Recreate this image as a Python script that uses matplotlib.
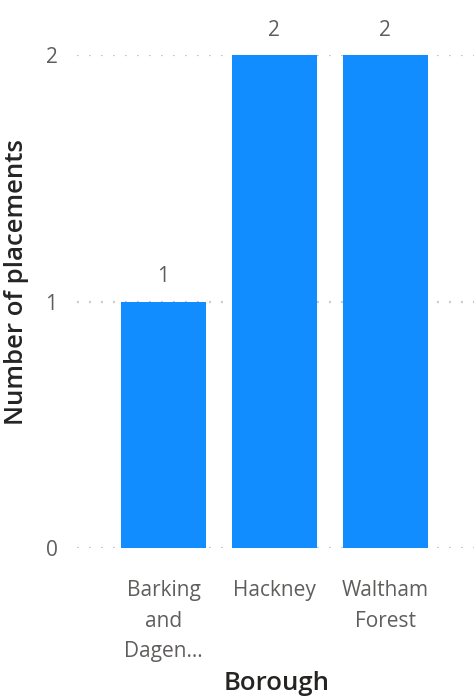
import matplotlib.pyplot as plt

boroughs = ["Barking\nand\nDagen...", "Hackney", "Waltham\nForest"]
placements = [1, 2, 2]
yticks = [0, 1, 2]

W, H = 474, 696
fig = plt.figure(figsize=(W / 100, H / 100), dpi=100)
plt.rcParams['font.family'] = ['Open Sans', 'DejaVu Sans']

# axes in pixel coordinates: left 77, right 474, y=0 at 548, y=2 at 55
ax = fig.add_axes([77 / W, (H - 548) / H, (W - 77) / W, (548 - 55) / H])
x = list(range(len(boroughs)))
ax.bar(x, placements, width=0.77, color="#118DFF", zorder=3)
ax.set_xlim(-0.78, 2.80)
ax.set_ylim(0, 2)

for v in yticks:
    ax.axhline(v, color="#C8C6C4", linestyle=(0, (0.8, 4.6)), linewidth=1.6, zorder=1)

for xi, v in zip(x, placements):
    ax.annotate(str(v), (xi, v), xytext=(0, 18), textcoords="offset points",
                ha="center", va="center", fontsize=15, color="#605E5C",
                annotation_clip=False)

ax.set_yticks(yticks)
ax.set_yticklabels([str(t) for t in yticks], fontsize=15, color="#605E5C")
ax.set_xticks(x)
ax.set_xticklabels(boroughs, fontsize=15, color="#605E5C", linespacing=1.6,
                   va="top")
ax.tick_params(axis="both", length=0)
ax.tick_params(axis="y", pad=14)
ax.tick_params(axis="x", pad=23)
for s in ax.spines.values():
    s.set_visible(False)

# axis titles
fig.text(277 / W, 1 - 683 / H, "Borough", fontsize=18.5, color="#252423",
         fontweight="semibold", ha="center", va="center")
fig.text(17 / W, 1 - 282 / H, "Number of placements", fontsize=18.5, color="#252423",
         fontweight="semibold", ha="center", va="center", rotation=90)

fig.savefig("out.png", dpi=100)
